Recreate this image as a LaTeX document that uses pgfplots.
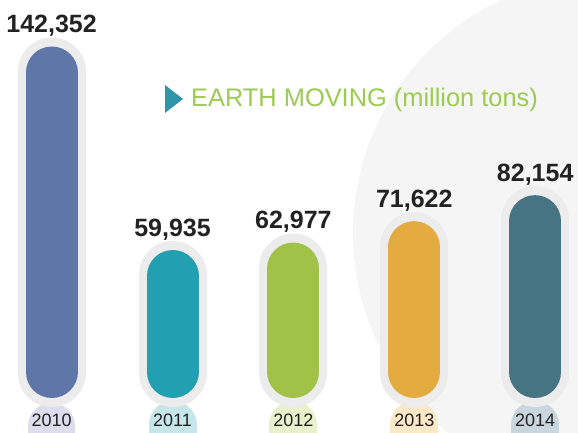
\documentclass[border=0pt]{standalone}
\usepackage{pgfplots}
\pgfplotsset{compat=1.18}
\usepackage{fontspec}
\setmainfont{Liberation Sans}
\definecolor{cA}{HTML}{5E76A8}
\definecolor{cB}{HTML}{22A0B2}
\definecolor{cC}{HTML}{A0C347}
\definecolor{cD}{HTML}{E4AC40}
\definecolor{cE}{HTML}{467483}
\definecolor{yA}{HTML}{DCDEEE}
\definecolor{yB}{HTML}{C6E6EA}
\definecolor{yC}{HTML}{E8F0CC}
\definecolor{yD}{HTML}{FBE8C6}
\definecolor{yE}{HTML}{C9D6DD}
\definecolor{outer}{HTML}{ECECEC}
\definecolor{bgc}{HTML}{F5F5F5}
\definecolor{titlegreen}{HTML}{9CCB52}
\definecolor{tri}{HTML}{2F96A9}
\definecolor{txt}{HTML}{222222}
\begin{document}
\begin{tikzpicture}[x=1pt,y=1pt]
\useasboundingbox (0,0) rectangle (578,433);
\fill[white] (0,0) rectangle (578,433);
\begin{scope}
\clip (0,0) rectangle (578,433);
\fill[bgc] (610,200) circle[radius=257];
\end{scope}
\fill[tri] (165,320) -- (165,348) -- (183,334) -- cycle;
\node[anchor=base west, inner sep=0pt, text=titlegreen, font=\fontsize{25.4}{25.4}\selectfont] at (191,326) {EARTH MOVING (million tons)};
\begin{axis}[
  at={(0pt,0pt)}, anchor=south west,
  scale only axis, width=578pt, height=433pt,
  xmin=-0.4268, xmax=4.354, ymin=-14175, ymax=161190,
  axis line style={draw=none}, major tick length=0pt,
  ytick=\empty, xtick={0,1,2,3,4},
  xticklabels={2010,2011,2012,2013,2014},
  xticklabel style={anchor=base, yshift=6pt, text=txt, font=\fontsize{18}{18}\selectfont},
  axis on top, clip=true,
]
% year backgrounds
\addplot[line width=47pt, line cap=round, color=yA] coordinates {(0,-11500) (0,-40000)};
\addplot[line width=48pt, line cap=round, color=yB] coordinates {(1,-10935) (1,-40000)};
\addplot[line width=48pt, line cap=round, color=yC] coordinates {(2,-10935) (2,-40000)};
\addplot[line width=48pt, line cap=round, color=yD] coordinates {(3,-10935) (3,-40000)};
\addplot[line width=48pt, line cap=round, color=yE] coordinates {(4,-10935) (4,-40000)};
% outer gray pills
\addplot[line width=68pt, line cap=round, color=outer, shorten <=25pt, shorten >=25pt] coordinates {(0,0) (0,142352)};
\addplot[line width=68pt, line cap=round, color=outer, shorten <=25pt, shorten >=25pt] coordinates {(1,0) (1,59935)};
\addplot[line width=68pt, line cap=round, color=outer, shorten <=25pt, shorten >=25pt] coordinates {(2,0) (2,62977)};
\addplot[line width=68pt, line cap=round, color=outer, shorten <=25pt, shorten >=25pt] coordinates {(3,0) (3,71622)};
\addplot[line width=68pt, line cap=round, color=outer, shorten <=25pt, shorten >=25pt] coordinates {(4,0) (4,82154)};
% bars
\addplot[line width=52pt, line cap=round, color=cA, shorten <=26pt, shorten >=26pt] coordinates {(0,0) (0,142352)};
\addplot[line width=52pt, line cap=round, color=cB, shorten <=26pt, shorten >=26pt] coordinates {(1,0) (1,59935)};
\addplot[line width=52pt, line cap=round, color=cC, shorten <=26pt, shorten >=26pt] coordinates {(2,0) (2,62977)};
\addplot[line width=52pt, line cap=round, color=cD, shorten <=26pt, shorten >=26pt] coordinates {(3,0) (3,71622)};
\addplot[line width=52pt, line cap=round, color=cE, shorten <=26pt, shorten >=26pt] coordinates {(4,0) (4,82154)};
% value labels
\addplot[draw=none, mark=none, point meta=y,
  nodes near coords={\pgfmathprintnumber[fixed, precision=0, 1000 sep={,}, assume math mode=true]{\pgfplotspointmeta}},
  nodes near coords style={anchor=base, yshift=14pt, inner sep=0pt, text=txt, font=\bfseries\fontsize{25}{25}\selectfont}]
  coordinates {(0,142352) (1,59935) (2,62977) (3,71622) (4,82154)};
\end{axis}
\end{tikzpicture}
\end{document}
